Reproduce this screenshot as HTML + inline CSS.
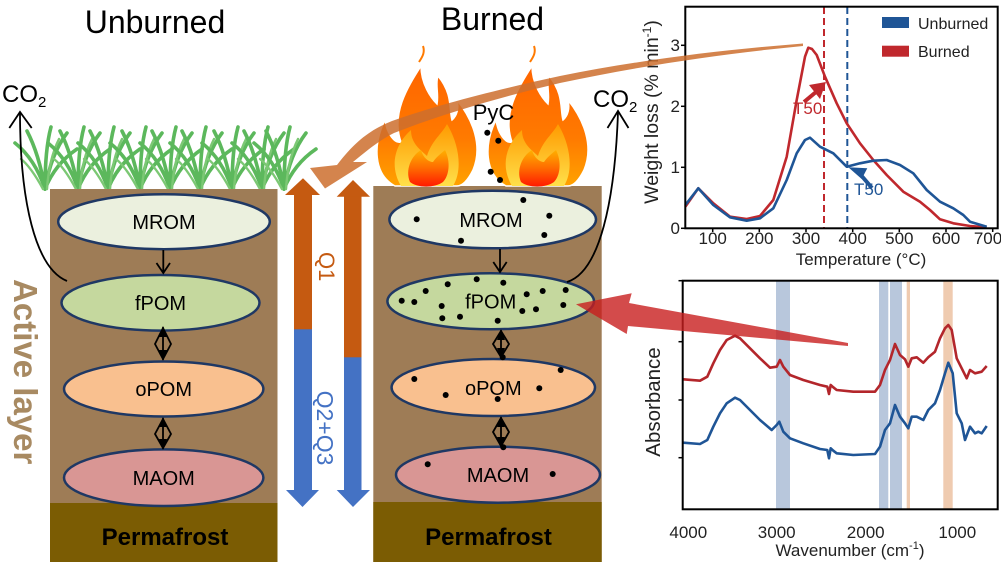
<!DOCTYPE html>
<html><head><meta charset="utf-8"><style>
html,body{margin:0;padding:0;background:#fff;}
svg{display:block;font-family:"Liberation Sans",Arial,sans-serif;}
</style></head><body>
<svg width="1001" height="562" viewBox="0 0 1001 562" xmlns="http://www.w3.org/2000/svg">
<defs>
  <linearGradient id="fo" x1="0" y1="0" x2="0" y2="1">
    <stop offset="0" stop-color="#ff6400"/><stop offset="0.6" stop-color="#ff7a00"/><stop offset="1" stop-color="#ffa200"/>
  </linearGradient>
  <linearGradient id="fi" x1="0" y1="0" x2="0" y2="1">
    <stop offset="0" stop-color="#ff9a00"/><stop offset="1" stop-color="#ffe04a"/>
  </linearGradient>
  <linearGradient id="fc" x1="0" y1="0" x2="0" y2="1">
    <stop offset="0" stop-color="#ffb000"/><stop offset="0.5" stop-color="#ff6a00"/><stop offset="1" stop-color="#ff1a00"/>
  </linearGradient>
  <g id="flame">
    <path d="M-32 0 C-54 -12 -54 -42 -42 -66 C-40 -52 -32 -42 -26 -44 C-36 -72 -20 -98 -6 -120 C-6 -102 4 -88 10 -82 C12 -92 8 -102 11 -110 C26 -92 22 -76 25 -66 C30 -70 32 -78 30 -86 C46 -66 56 -40 46 -16 C41 -6 36 0 30 0 Z" fill="url(#fo)" stroke="#fff" stroke-width="1.5"/>
    <path d="M-8 -124 C-4 -130 -2 -134 -4 -140" stroke="#ff7a00" stroke-width="2" fill="none"/>
    <path d="M-26 0 C-38 -20 -32 -42 -16 -56 C-16 -42 -6 -36 0 -30 C5 -46 15 -52 20 -62 C32 -42 36 -16 26 0 Z" fill="url(#fi)"/>
    <path d="M-17 -4 C-22 -16 -16 -30 -6 -36 C-4 -28 2 -24 6 -24 C10 -30 16 -34 18 -36 C24 -24 22 -10 16 -4 C8 2 -10 2 -17 -4 Z" fill="url(#fc)"/>
  </g>
  <g id="clump" fill="none" stroke="#5cb85c" stroke-width="3.6" stroke-linecap="round">
    <path d="M0 0 Q-10 -30 -30 -46"/>
    <path d="M0 0 Q-6 -35 -18 -58"/>
    <path d="M0 0 Q0 -40 6 -62"/>
    <path d="M0 0 Q6 -35 22 -56"/>
    <path d="M0 0 Q10 -25 32 -40"/>
    <path d="M-2 0 Q-14 -22 -24 -30" stroke="#7cc874" stroke-width="2.4"/>
    <path d="M2 0 Q4 -30 14 -50" stroke="#7cc874" stroke-width="2.4"/>
  </g>
</defs>

<!-- Titles -->
<text x="155" y="33" font-size="32" text-anchor="middle">Unburned</text>
<text x="492.5" y="30" font-size="32" text-anchor="middle">Burned</text>

<!-- Grass -->
<use href="#clump" x="45" y="189"/>
<use href="#clump" x="78" y="189"/>
<use href="#clump" x="108" y="189"/>
<use href="#clump" x="140" y="189"/>
<use href="#clump" x="170" y="189"/>
<use href="#clump" x="200" y="189"/>
<use href="#clump" x="232" y="189"/>
<use href="#clump" x="262" y="189"/>
<use href="#clump" x="284" y="189"/>

<!-- Soil columns -->
<rect x="50" y="189" width="227.5" height="373" fill="#9e7c56"/>
<rect x="50" y="503" width="227.5" height="59" fill="#7b5c03"/>
<rect x="373.3" y="186" width="228.4" height="376" fill="#9e7c56"/>
<rect x="373.3" y="502" width="228.4" height="60" fill="#7b5c03"/>

<!-- Flames -->
<use href="#flame" x="427" y="186"/>
<use href="#flame" x="538" y="186"/>

<!-- Left ellipses -->
<g stroke="#1f3864" stroke-width="2.5">
  <ellipse cx="164" cy="221.7" rx="105.8" ry="27.5" fill="#ebf0de"/>
  <ellipse cx="160.5" cy="302.8" rx="99" ry="27.8" fill="#c5d89e"/>
  <ellipse cx="163.7" cy="389" rx="99.7" ry="27.5" fill="#f9c08f"/>
  <ellipse cx="163.7" cy="477.7" rx="99.7" ry="28.3" fill="#d99694"/>
  <ellipse cx="492.7" cy="219.5" rx="103.3" ry="28.8" fill="#ebf0de"/>
  <ellipse cx="490.7" cy="301.3" rx="103.3" ry="28" fill="#c5d89e"/>
  <ellipse cx="493.3" cy="387.5" rx="101.7" ry="28.5" fill="#f9c08f"/>
  <ellipse cx="498" cy="474.7" rx="102" ry="28" fill="#d99694"/>
</g>
<g font-size="20" text-anchor="middle">
  <text x="164" y="229">MROM</text>
  <text x="160.5" y="310">fPOM</text>
  <text x="163.7" y="396">oPOM</text>
  <text x="163.7" y="485">MAOM</text>
  <text x="491" y="227">MROM</text>
  <text x="490.7" y="308.5">fPOM</text>
  <text x="493.3" y="395">oPOM</text>
  <text x="498" y="482">MAOM</text>
</g>

<!-- Permafrost -->
<text x="165" y="545" font-size="24" font-weight="bold" text-anchor="middle">Permafrost</text>
<text x="488.5" y="545" font-size="24" font-weight="bold" text-anchor="middle">Permafrost</text>

<!-- Vertical black arrows -->
<g stroke="#000" stroke-width="1.8" fill="none">
  <path d="M163.3 250 L163.3 273 M156.5 263 L163.3 273 L170 263"/>
  <path d="M500 249 L500 272 M493.3 262 L500 272 L506.7 262"/>
  <path d="M163 327 L163 360 M163 328 L155 344 L163 359 L171 344 Z"/>
  <path d="M163 418 L163 449 M163 419 L155 434 L163 448 L171 434 Z"/>
  <path d="M501 330 L501 358 M501 331 L493 344 L501 357 L509 344 Z"/>
  <path d="M501 417 L501 447 M501 418 L493 432 L501 446 L509 432 Z"/>
</g>
<g fill="#000">
  <path d="M163 327 L159 337 L167 337 Z"/><path d="M163 360 L159 350 L167 350 Z"/>
  <path d="M163 417 L159 427 L167 427 Z"/><path d="M163 449 L159 439 L167 439 Z"/>
  <path d="M501 330 L497 340 L505 340 Z"/><path d="M501 358 L497 348 L505 348 Z"/>
  <path d="M501 417 L497 427 L505 427 Z"/><path d="M501 447 L497 437 L505 437 Z"/>
</g>

<!-- Dots -->
<g fill="#000">
  <circle cx="487.3" cy="132.7" r="3"/><circle cx="498.3" cy="140.7" r="3"/>
  <circle cx="490.7" cy="171.7" r="3"/><circle cx="500" cy="180" r="3"/>
  <circle cx="523.3" cy="200" r="3"/><circle cx="416.7" cy="219.3" r="3"/>
  <circle cx="549.3" cy="215.7" r="3"/><circle cx="544.3" cy="235" r="3"/>
  <circle cx="461" cy="240.7" r="3"/>
  <circle cx="401.7" cy="300.7" r="3"/><circle cx="414.3" cy="302" r="3"/>
  <circle cx="425.7" cy="291" r="3"/><circle cx="441.7" cy="306" r="3"/>
  <circle cx="442.3" cy="318.3" r="3"/><circle cx="460" cy="316.7" r="3"/>
  <circle cx="447.7" cy="284.3" r="3"/><circle cx="476.7" cy="279.3" r="3"/>
  <circle cx="503.3" cy="282.7" r="3"/><circle cx="497.7" cy="320.7" r="3"/>
  <circle cx="526.7" cy="294.3" r="3"/><circle cx="522.3" cy="311" r="3"/>
  <circle cx="536" cy="309.3" r="3"/><circle cx="542.7" cy="291" r="3"/>
  <circle cx="565.7" cy="290" r="3"/><circle cx="563.3" cy="305" r="3"/>
  <circle cx="502.7" cy="357.3" r="3"/>
  <circle cx="414.3" cy="379" r="3"/><circle cx="445.7" cy="395" r="3"/>
  <circle cx="497.7" cy="399" r="3"/><circle cx="539.3" cy="388.3" r="3"/>
  <circle cx="560.7" cy="370" r="3"/>
  <circle cx="503.3" cy="447.3" r="3"/>
  <circle cx="427.7" cy="464.3" r="3"/><circle cx="552.7" cy="474" r="3"/>
</g>
<text x="472.7" y="120" font-size="22">PyC</text>

<!-- CO2 labels and curved arrows -->
<text x="2" y="102" font-size="24">CO<tspan font-size="15" dy="5">2</tspan></text>
<text x="593" y="107" font-size="24">CO<tspan font-size="15" dy="5">2</tspan></text>
<g stroke="#000" stroke-width="1.8" fill="none">
  <path d="M67 281 C35 268 20 200 20 113"/>
  <path d="M9.3 128 L20 112 L31.7 128"/>
  <path d="M567 282 C600 272 615 200 618 112"/>
  <path d="M607.5 128 L618 111 L628.5 128"/>
</g>

<!-- Q arrows -->
<rect x="294" y="194" width="18" height="136" fill="#c55a11"/>
<rect x="294" y="329.3" width="18" height="162" fill="#4472c4"/>
<path d="M285 195 L303 178.3 L320 195 Z" fill="#c55a11"/>
<path d="M286 490 L319 490 L302.5 507 Z" fill="#4472c4"/>
<rect x="344" y="196" width="17.5" height="162" fill="#c55a11"/>
<rect x="344" y="357.3" width="17.5" height="134" fill="#4472c4"/>
<path d="M336.7 196.7 L353 180 L370 196.7 Z" fill="#c55a11"/>
<path d="M336.7 490 L370 490 L353 507 Z" fill="#4472c4"/>
<text transform="translate(319 266.7) rotate(90)" font-size="22" fill="#c55a11" text-anchor="middle">Q1</text>
<text transform="translate(317 428) rotate(90)" font-size="23" fill="#4472c4" text-anchor="middle">Q2+Q3</text>

<!-- Active layer -->
<text transform="translate(14 371.7) rotate(90)" font-size="33" font-weight="bold" fill="#a88a62" text-anchor="middle">Active layer</text>

<!-- TGA chart -->
<line x1="824" y1="7" x2="824" y2="228" stroke="#c0282d" stroke-width="2" stroke-dasharray="7 4"/>
<line x1="847.3" y1="7" x2="847.3" y2="228" stroke="#1f5596" stroke-width="2" stroke-dasharray="7 4"/>
<polyline fill="none" stroke="#c0282d" stroke-width="2.6" stroke-linejoin="round" points="685.3,206.7 698.3,188.3 713.3,203.3 730,216.7 746.7,219 760,216 773.3,200 786.7,156.7 796.7,100 805,56.7 808.3,47.7 812,49 816.7,55 825,76.7 836.7,103.3 846.7,123.3 860,143.3 873.3,160 886.7,175 903.3,191.7 920,201.7 930,210 940,219.3 953.3,223.3 970,226 986.7,227.3"/>
<polyline fill="none" stroke="#1f5596" stroke-width="2.6" stroke-linejoin="round" points="685.3,205 698.3,188.3 713.3,205 730,217.3 746.7,220.7 760,218.3 773.3,208.3 786.7,180 796.7,153.3 805,140 810,137.7 820,146.7 833.3,153.3 846.7,166.7 860,163.3 873.3,160.7 886.7,160 900,165 913.3,173.3 926.7,190 940,201.7 953.3,208.3 963.3,215 970,221.7 986.7,226.7"/>
<rect x="685.3" y="6.7" width="312.4" height="221.6" fill="none" stroke="#000" stroke-width="2"/>
<g stroke="#000" stroke-width="1.5">
  <line x1="712.7" y1="228.3" x2="712.7" y2="232"/><line x1="759.3" y1="228.3" x2="759.3" y2="232"/>
  <line x1="806" y1="228.3" x2="806" y2="232"/><line x1="852.7" y1="228.3" x2="852.7" y2="232"/>
  <line x1="899.3" y1="228.3" x2="899.3" y2="232"/><line x1="946" y1="228.3" x2="946" y2="232"/>
  <line x1="992.7" y1="228.3" x2="992.7" y2="232"/>
  <line x1="681" y1="228.3" x2="685.3" y2="228.3"/><line x1="681" y1="167.3" x2="685.3" y2="167.3"/>
  <line x1="681" y1="106.3" x2="685.3" y2="106.3"/><line x1="681" y1="45.3" x2="685.3" y2="45.3"/>
</g>
<g font-size="17" text-anchor="middle" fill="#222">
  <text x="712.7" y="244">100</text><text x="759.3" y="244">200</text><text x="806" y="244">300</text>
  <text x="852.7" y="244">400</text><text x="899.3" y="244">500</text><text x="946" y="244">600</text>
  <text x="988" y="244">700</text>
</g>
<g font-size="17" text-anchor="end" fill="#222">
  <text x="680" y="234">0</text><text x="680" y="173">1</text><text x="680" y="112">2</text><text x="680" y="51">3</text>
</g>
<text x="861" y="265" font-size="17" text-anchor="middle" fill="#222">Temperature (°C)</text>
<text transform="translate(658 112) rotate(-90)" font-size="19.5" text-anchor="middle" fill="#222">Weight loss (% min<tspan font-size="12" dy="-7">-1</tspan><tspan dy="7">)</tspan></text>
<rect x="882" y="17" width="27" height="11" fill="#1f5596"/>
<text x="918" y="29" font-size="16" fill="#222">Unburned</text>
<rect x="882" y="45.7" width="27" height="11" fill="#c0282d"/>
<text x="918" y="57" font-size="16" fill="#222">Burned</text>
<!-- T50 arrows -->
<line x1="804" y1="102" x2="816" y2="92" stroke="#c0282d" stroke-width="4"/>
<path d="M809 85 L826 82 L820 99 Z" fill="#c0282d"/>
<text x="793" y="114" font-size="17" fill="#c0282d">T50</text>
<line x1="872" y1="188" x2="860" y2="174" stroke="#1f5596" stroke-width="4"/>
<path d="M848.3 167.3 L867.3 168.3 L861.7 179 Z" fill="#1f5596"/>
<text x="854" y="195" font-size="17" fill="#1f5596">T50</text>

<!-- FTIR chart -->
<g>
  <rect x="776" y="281" width="14" height="228" fill="#b8c7dc"/>
  <rect x="879" y="281" width="9.3" height="228" fill="#b8c7dc"/>
  <rect x="890" y="281" width="12" height="228" fill="#b8c7dc"/>
  <rect x="906.7" y="281" width="3.3" height="228" fill="#efcbb0"/>
  <rect x="943.3" y="281" width="9.4" height="228" fill="#efcbb0"/>
</g>
<polyline fill="none" stroke="#b3262b" stroke-width="2.6" stroke-linejoin="round" points="683.3,379.3 700,380.7 707.3,376.7 713.3,363.3 720,350 726.7,340 735,335.7 740,338.3 750,348.3 760,358.3 770,367.7 776.7,366.7 780,360 783.3,366.7 790,375 803.3,380 820,385 827.3,386.7 829,394 830.7,385 833.3,387.3 836.7,390 853.3,391.7 875,391.7 880,385 885,370 890,360 895,344 900,355 905,359.3 908.3,366.7 911.7,358.3 916.7,357.3 923.3,362.7 928.3,357.3 935,351.7 940,338.3 945,328.3 948.3,325 951.7,330 956.7,358.3 961.7,368.3 966.7,378.3 970,370 975,373.3 981.7,371.7 986.7,366"/>
<polyline fill="none" stroke="#1f5596" stroke-width="2.6" stroke-linejoin="round" points="683.3,442.7 700,444 707.3,440 713.3,426.7 720,413.3 726.7,403.3 735,397.7 740,400 750,410 760,420 771.7,430 776.7,425 779.3,421.7 783.3,431.7 790,438.3 803.3,443.3 820,449 827.3,450 829,458.3 830.7,448.3 833.3,450.7 836.7,453.3 853.3,455 875,454 880,446.7 885,430 890,423.3 895,405 900,416.7 905,423.3 908.3,428.3 911.7,416.7 916.7,416.7 923.3,420 928.3,410 935,403.3 940,390 945,373.3 948.3,362.7 952.7,373.3 956.7,413.3 961.7,423.3 965,440 970,426.7 975,433.3 978.3,431.7 981.7,433.3 986.7,426"/>
<rect x="682.7" y="280.7" width="315" height="228.6" fill="none" stroke="#000" stroke-width="2"/>
<g stroke="#000" stroke-width="1.5">
  <line x1="678.5" y1="280.7" x2="682.7" y2="280.7"/><line x1="678.5" y1="341.7" x2="682.7" y2="341.7"/>
  <line x1="678.5" y1="400" x2="682.7" y2="400"/><line x1="678.5" y1="457.7" x2="682.7" y2="457.7"/>
</g>
<g font-size="17" text-anchor="middle" fill="#222">
  <text x="688.3" y="538">4000</text><text x="776.7" y="538">3000</text>
  <text x="865.7" y="538">2000</text><text x="957.3" y="538">1000</text>
</g>
<text x="850" y="556" font-size="17" text-anchor="middle" fill="#222">Wavenumber (cm<tspan font-size="11" dy="-7">-1</tspan><tspan dy="7">)</tspan></text>
<text transform="translate(660 402) rotate(-90)" font-size="20.5" text-anchor="middle" fill="#222">Absorbance</text>

<!-- Big orange curved arrow -->
<path d="M803 43.5 C720 50 640 60 560 76 C500 89 440 104 392 121 C372 129 356 140 337 165 L310 168 L325 188.5 L367 162 L353 162 C370 148 380 140 394 133 C445 113 505 96 560 83 C640 66 720 54 803 46 Z" fill="#cc6e2e" fill-opacity="0.85"/>

<!-- Big red arrow -->
<path d="M848 343 L629 303 L631.7 293.3 L576 304.3 L626.7 334 L628 326 L848 346 Z" fill="#c81e1e" fill-opacity="0.8"/>
</svg>
</body></html>
